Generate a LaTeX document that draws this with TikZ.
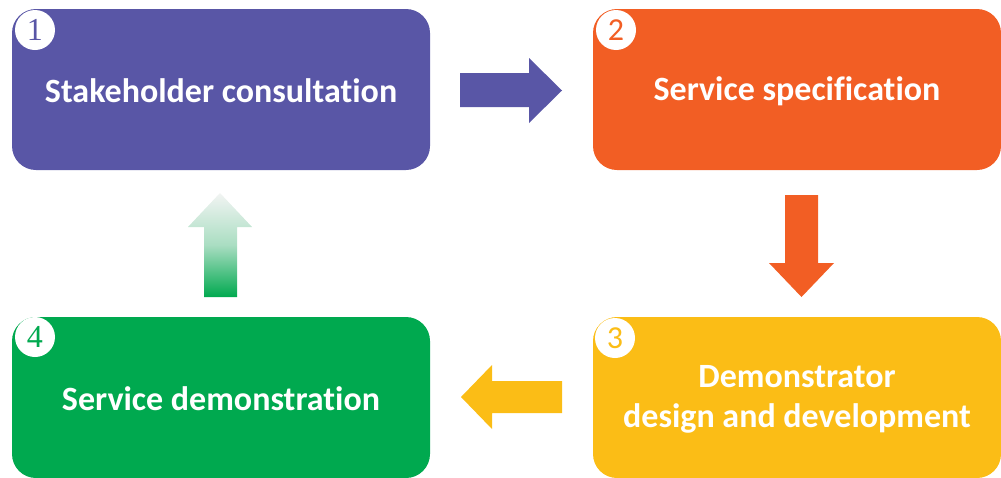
\documentclass[tikz,border=0pt]{standalone}
\usepackage{fontspec}
\setmainfont{Carlito}[Ligatures=NoCommon]
\newfontfamily\digitserif{Liberation Serif}
\newfontfamily\digitsans{Carlito}

\definecolor{cPurple}{RGB}{89,86,166}
\definecolor{cOrange}{RGB}{242,94,36}
\definecolor{cYellow}{RGB}{251,189,22}
\definecolor{cGreen}{RGB}{0,169,79}
\definecolor{cFade}{RGB}{242,244,243}

\begin{document}
\begin{tikzpicture}[x=1pt,y=-1pt]
\tikzset{
  stagebox/.style={rectangle, rounded corners=24pt, inner sep=0pt,
    minimum width=408pt, minimum height=161pt},
  wideleft/.style={minimum width=418pt},
  stagetext/.style={text=white, align=center, inner sep=0pt,
    font=\bfseries\fontsize{34}{40}\selectfont},
  numbadge/.style={circle, fill=white, inner sep=0pt, minimum size=40pt,
    font=\fontsize{32}{32}\selectfont}
}
\useasboundingbox (0,0) rectangle (1001,477);
\clip (0,0) rectangle (1001,477);

% the four stages
\node[stagebox, wideleft, fill=cPurple] (s1) at (221,89.5) {};
\node[stagebox, fill=cOrange] (s2) at (797,89.5) {};
\node[stagebox, fill=cYellow] (s3) at (797,397.5) {};
\node[stagebox, wideleft, fill=cGreen] (s4) at (221,397.5) {};

% stage titles
\node[stagetext] (t1) at ([yshift=-1.5pt]s1.center) {Stakeholder consultation};
\node[stagetext] (t2) at ([yshift=-2pt]s2.center) {Service specification};
\node[stagetext] (t3) at ([yshift=-2pt]s3.center) {Demonstrator\\design and development};
\node[stagetext] (t4) at ([yshift=-1pt]s4.center) {Service demonstration};

% numbered badges
\node[numbadge, text=cPurple] (n1) at (35,30) {\digitserif 1};
\node[numbadge, text=cOrange] (n2) at (616,30) {\digitsans 2};
\node[numbadge, text=cYellow] (n3) at (615,338) {\digitsans 3};
\node[numbadge, text=cGreen] (n4) at (35,337) {\digitserif 4};

% block arrows between the stages
\fill[cPurple] (460,73) -- (529,73) -- (529,58) -- (562,90.5) -- (529,123)
  -- (529,107) -- (460,107) -- cycle;
\fill[cOrange] (785,195) -- (818,195) -- (818,263) -- (834,263) -- (801.5,297)
  -- (769,263) -- (785,263) -- cycle;
\fill[cYellow] (562,381) -- (492,381) -- (492,365) -- (461,397) -- (492,429)
  -- (492,413) -- (562,413) -- cycle;
\shade[top color=cFade, bottom color=cGreen, middle color=cGreen!30!cFade]
  (204,297) -- (204,227) -- (188,227) -- (220,193) -- (252,227) -- (237,227)
  -- (237,297) -- cycle;
\end{tikzpicture}
\end{document}
